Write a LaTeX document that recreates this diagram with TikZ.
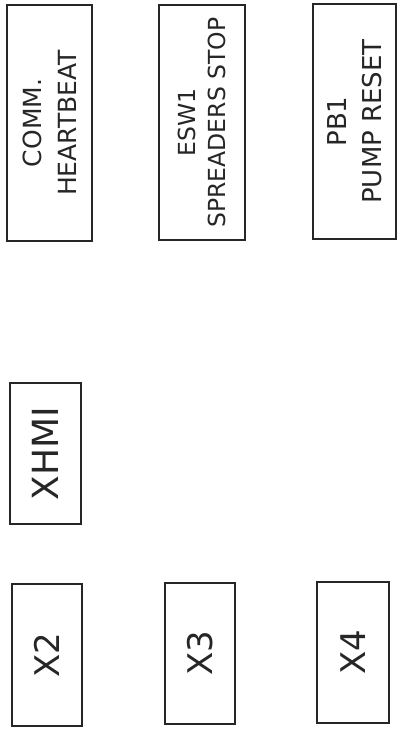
\documentclass[tikz,border=0pt]{standalone}
\usepackage{fontspec}
\setmainfont{DejaVu Sans}
\begin{document}
\begin{tikzpicture}[x=1pt,y=-1pt,
  box/.style={draw=black!85, line width=1.4pt, rotate=90, align=center, inner sep=0pt, text=black!85},
  big/.style={font=\fontsize{34}{40}\selectfont}]
\useasboundingbox (0,0) rectangle (398,731);
\node[box, minimum width=236pt, minimum height=85pt, font=\fontsize{25}{35}\selectfont] (comm) at (49.5,123) {COMM.\\HEARTBEAT};
\node[box, minimum width=235pt, minimum height=86pt, font=\fontsize{23.5}{30}\selectfont] (esw) at (202,122.5) {ESW1\\SPREADERS STOP};
\node[box, minimum width=235pt, minimum height=83pt, font=\fontsize{26}{35}\selectfont] (pb) at (354.5,121.5) {PB1\\PUMP RESET};
\node[box, minimum width=141pt, minimum height=71pt, font=\fontsize{36}{40}\selectfont] (xhmi) at (45.5,453.5) {XHMI};
\node[box, big, minimum width=142pt, minimum height=70pt] (x2) at (47,655) {X2};
\node[box, big, minimum width=141pt, minimum height=70pt] (x3) at (200,653.5) {X3};
\node[box, big, minimum width=141pt, minimum height=72pt] (x4) at (353,652.5) {X4};
\end{tikzpicture}
\end{document}
